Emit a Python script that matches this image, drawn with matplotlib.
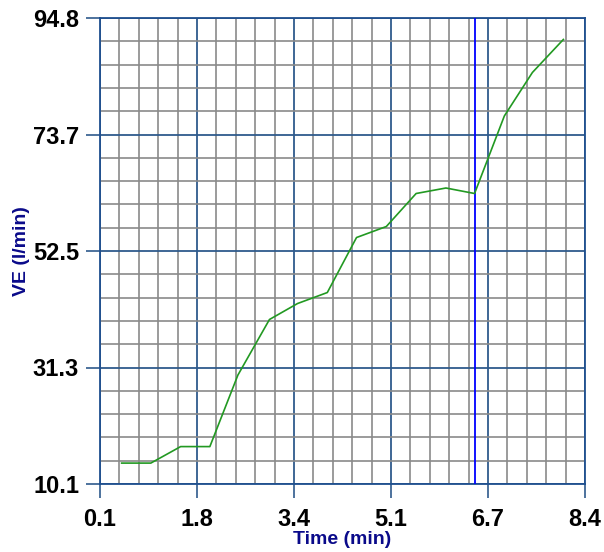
import matplotlib
matplotlib.use("Agg")
import matplotlib.pyplot as plt
import numpy as np

# data
time_min = [0.47, 0.97, 1.48, 1.98, 2.46, 3.0, 3.48, 3.99, 4.49, 5.0, 5.51, 6.02, 6.51, 7.02, 7.5, 8.03]
ve = [13.9, 13.9, 16.9, 16.9, 29.9, 40.0, 42.9, 44.9, 54.9, 56.9, 62.9, 63.9, 62.9, 77.0, 84.9, 90.9]
marker_time = 6.51

x_ticks = [0.1, 1.76, 3.42, 5.08, 6.74, 8.4]
x_labels = ["0.1", "1.8", "3.4", "5.1", "6.7", "8.4"]
y_ticks = [10.1, 31.275, 52.45, 73.625, 94.8]
y_labels = ["10.1", "31.3", "52.5", "73.7", "94.8"]

plt.rcParams['font.family'] = ['Liberation Sans', 'DejaVu Sans']

fig = plt.figure(figsize=(6.04, 5.52), dpi=100)
ax = fig.add_axes([100 / 604, 1 - 484 / 552, 485 / 604, 466 / 552])

ax.set_xlim(0.1, 8.4)
ax.set_ylim(10.1, 94.8)

# minor grid: 5 divisions per major interval
ax.set_xticks(np.linspace(0.1, 8.4, 26), minor=True)
ax.set_yticks(np.linspace(10.1, 94.8, 21), minor=True)
ax.grid(which='minor', color='#8a8a8a', lw=1.2, zorder=0)
ax.grid(which='major', color='#2f5a8c', lw=1.3, zorder=1)
ax.tick_params(which='minor', length=0)

ax.set_xticks(x_ticks)
ax.set_xticklabels(x_labels)
ax.set_yticks(y_ticks)
ax.set_yticklabels(y_labels)
ax.tick_params(which='major', length=10, width=1.2, color='#2f5a8c', labelsize=17)
ax.tick_params(axis='x', pad=7)
ax.tick_params(axis='y', pad=5)
for lab in ax.get_xticklabels() + ax.get_yticklabels():
    lab.set_fontweight('bold')

for side in ['left', 'bottom', 'top', 'right']:
    ax.spines[side].set_color('#1f4f8f')
    ax.spines[side].set_linewidth(1.3)

ax.axvline(marker_time, color='#0000ff', lw=1.3, zorder=3)
ax.plot(time_min, ve, color='#229922', lw=1.2, zorder=4)

ax.set_xlabel("Time (min)", color='#0a0a8a', fontsize=14, fontweight='bold', labelpad=0)
ax.set_ylabel("VE (l/min)", color='#0a0a8a', fontsize=14, fontweight='bold', labelpad=2)

fig.savefig("out.png", dpi=100)
